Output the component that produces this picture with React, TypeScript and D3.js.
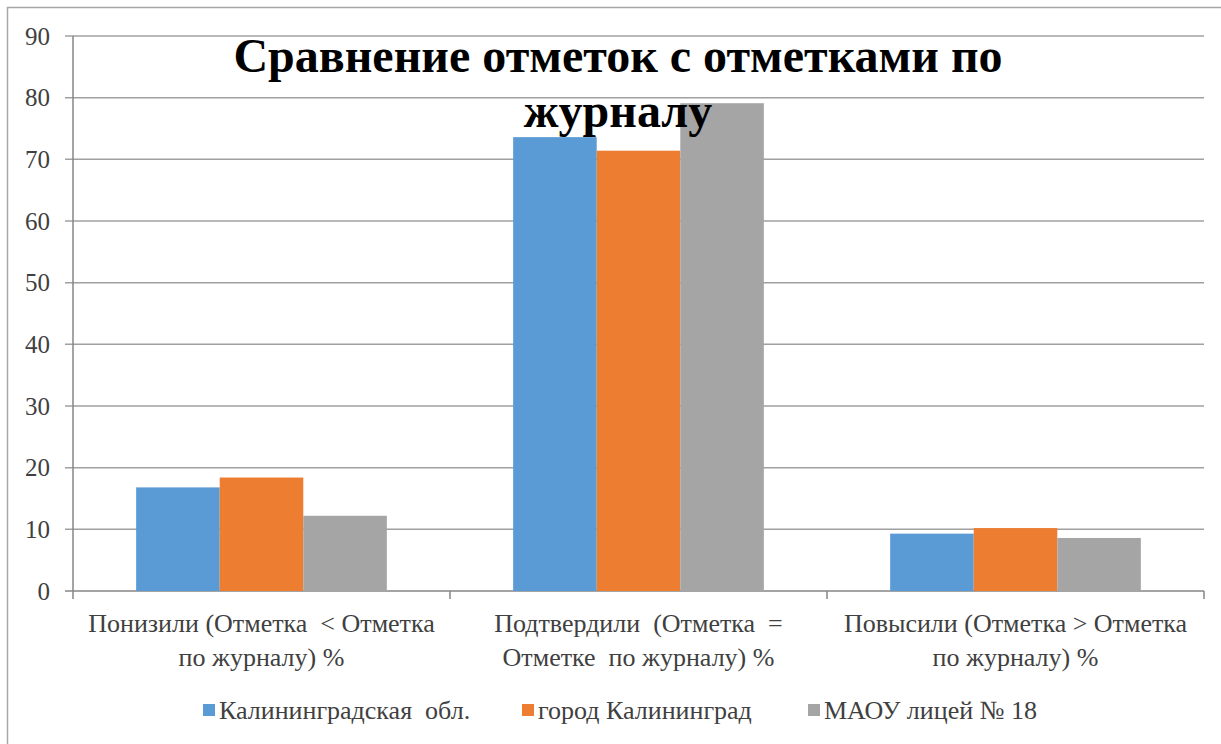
import React, { useEffect, useRef } from "react";
import * as d3 from "d3";

const categories = [
  ["Понизили (Отметка  < Отметка", "по журналу) %"],
  ["Подтвердили  (Отметка  =", "Отметке  по журналу) %"],
  ["Повысили (Отметка > Отметка", "по журналу) %"],
];
const seriesNames = ["Калининградская  обл.", "город Калининград", "МАОУ лицей № 18"];
const seriesColors = ["#5b9bd5", "#ed7d31", "#a5a5a5"];
const kaliningradRegion = [16.8, 73.6, 9.3];
const kaliningradCity = [18.4, 71.4, 10.2];
const lyceum18 = [12.2, 79.1, 8.6];
const yTicks = [0, 10, 20, 30, 40, 50, 60, 70, 80, 90];
const titleLines = ["Сравнение отметок с отметками по", "журналу"];

const FONT = "Liberation Serif";

export default function App() {
  const W = 1221, H = 744;
  const left = 73, right = 1204, top = 36, bottom = 591;
  const ref = useRef<SVGSVGElement>(null);
  const series = [kaliningradRegion, kaliningradCity, lyceum18];
  const x0 = d3.scaleBand<number>().domain(categories.map((_, i) => i)).range([left, right]).paddingInner(0).paddingOuter(0);
  const groupW = x0.bandwidth() * 0.665;
  const x1 = d3.scaleBand<number>().domain([0, 1, 2]).range([0, groupW]);
  const y = d3.scaleLinear().domain([0, 90]).range([bottom, top]);
  const legendX = [203, 522, 808];

  useEffect(() => {
    if (ref.current) d3.select(ref.current).selectAll("text").attr("font-family", FONT).style("font-family", FONT);
  }, []);

  return (
    <svg ref={ref} width={W} height={H} style={{ position: "absolute", left: 0, top: 0, display: "block", background: "#fff" }}>
      <rect x={7.5} y={7.5} width={1240} height={760} fill="#fff" stroke="#a6a6a6" strokeWidth={1.5} />
      {yTicks.map((t) => (
        <g key={t}>
          <line x1={left - 8} x2={right} y1={y(t)} y2={y(t)} stroke={t === 0 ? "#868686" : "#a0a0a0"} strokeWidth={1.5} />
          <text x={50} y={y(t)} dy="0.35em" textAnchor="end" fontFamily={FONT} fontSize={25} fill="#404040">{t}</text>
        </g>
      ))}
      <line x1={left} x2={left} y1={top} y2={bottom} stroke="#868686" strokeWidth={1.5} />
      {[0, 1, 2, 3].map((i) => {
        const xx = left + i * x0.step();
        return <line key={i} x1={xx} x2={xx} y1={bottom} y2={bottom + 8} stroke="#868686" strokeWidth={1.5} />;
      })}
      {categories.map((c, ci) => {
        const gx = (x0(ci) as number) + (x0.bandwidth() - groupW) / 2;
        return (
          <g key={ci}>
            {series.map((s, si) => (
              <rect key={si} x={gx + (x1(si) as number)} y={y(s[ci])} width={x1.bandwidth()} height={bottom - y(s[ci])} fill={seriesColors[si]} />
            ))}
            {c.map((line, li) => (
              <text key={li} x={(x0(ci) as number) + x0.bandwidth() / 2} y={632 + li * 34} textAnchor="middle" fontFamily={FONT} fontSize={26} fill="#404040" style={{ whiteSpace: "pre" }}>{line}</text>
            ))}
          </g>
        );
      })}
      {titleLines.map((l, i) => (
        <text key={i} x={618} y={72 + i * 55} textAnchor="middle" fontFamily={FONT} fontWeight="bold" fontSize={48} fill="#000">{l}</text>
      ))}
      {seriesNames.map((n, i) => (
        <g key={i}>
          <rect x={legendX[i]} y={704} width={12} height={12} fill={seriesColors[i]} />
          <text x={legendX[i] + 16} y={719} fontFamily={FONT} fontSize={26} fill="#404040" style={{ whiteSpace: "pre" }}>{n}</text>
        </g>
      ))}
    </svg>
  );
}
